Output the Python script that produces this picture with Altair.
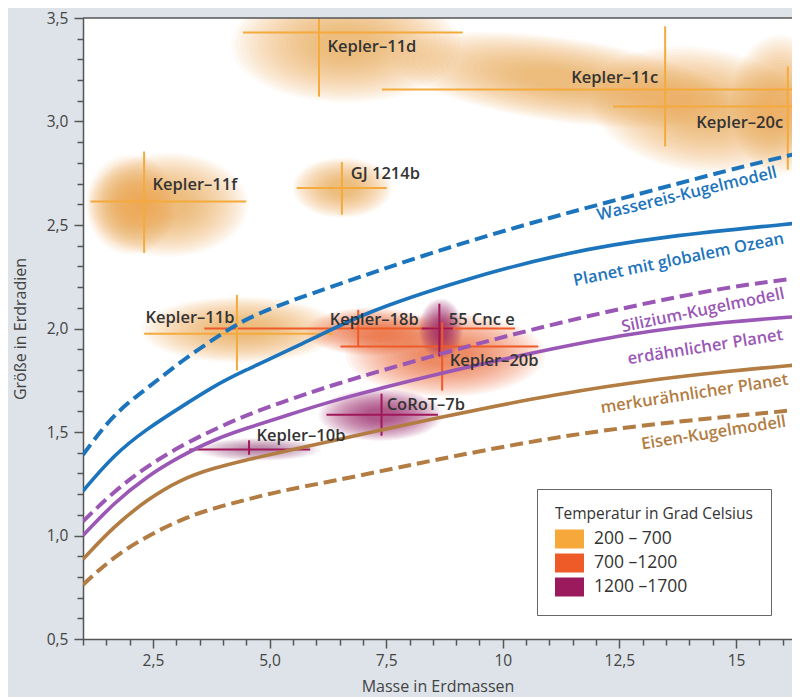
import altair as alt
import pandas as pd
import numpy as np

# ---------------- axes ----------------
X_MIN, X_MAX = 1.0, 16.2
Y_MIN, Y_MAX = 0.5, 3.5
W, H = 709, 621
PXX = W / (X_MAX - X_MIN)
PXY = H / (Y_MAX - Y_MIN)
FONT = "Open Sans"

# ---------------- model curves (mass in Earth masses -> radius in Earth radii) ----------------
wassereis_x = [1.0, 1.66, 2.37, 3.15, 3.94, 4.65, 6.30, 8.44, 10.58, 12.72, 14.86, 16.36]
wassereis_y = [1.39, 1.59, 1.71, 1.85, 1.97, 2.07, 2.20, 2.365, 2.51, 2.638, 2.767, 2.848]

ozean_x = [1.0, 1.66, 2.37, 3.08, 3.80, 4.30, 5.94, 7.01, 9.15, 11.29, 13.43, 16.36]
ozean_y = [1.215, 1.39, 1.515, 1.618, 1.72, 1.78, 1.95, 2.075, 2.236, 2.365, 2.445, 2.51]

silizium_x = [1.0, 1.66, 2.37, 3.08, 3.80, 4.51, 5.22, 6.30, 8.44, 10.58, 12.72, 14.86, 16.36]
silizium_y = [1.068, 1.213, 1.334, 1.431, 1.511, 1.583, 1.64, 1.725, 1.865, 1.994, 2.107, 2.203, 2.244]

erde_x = [1.0, 1.66, 2.37, 3.08, 3.80, 4.51, 5.22, 6.30, 8.65, 10.58, 12.72, 14.86, 16.36]
erde_y = [1.0, 1.157, 1.286, 1.382, 1.463, 1.519, 1.568, 1.65, 1.785, 1.88, 1.978, 2.034, 2.058]

merkur_x = [1.0, 1.66, 2.37, 3.08, 3.80, 4.51, 5.22, 6.30, 7.40, 8.44, 10.58, 12.72, 14.86, 16.36]
merkur_y = [0.885, 1.044, 1.173, 1.27, 1.326, 1.366, 1.401, 1.455, 1.51, 1.56, 1.66, 1.74, 1.795, 1.825]

eisen_x = [1.0, 1.66, 2.37, 3.08, 3.80, 4.51, 5.22, 6.30, 7.79, 8.44, 10.58, 12.72, 14.86, 16.36]
eisen_y = [0.762, 0.899, 0.996, 1.076, 1.133, 1.173, 1.215, 1.26, 1.33, 1.36, 1.455, 1.527, 1.575, 1.608]

curve_names = ["Wassereis-Kugelmodell", "Planet mit globalem Ozean", "Silizium-Kugelmodell",
               "erdähnlicher Planet", "merkurähnlicher Planet", "Eisen-Kugelmodell"]
curve_xs = [wassereis_x, ozean_x, silizium_x, erde_x, merkur_x, eisen_x]
curve_ys = [wassereis_y, ozean_y, silizium_y, erde_y, merkur_y, eisen_y]
curve_colors = ["#1c74bc", "#1c74bc", "#9a57b6", "#9a57b6", "#b27c42", "#b27c42"]
curve_dashed = [True, False, True, False, False, True]

# curve label anchors (data coords) and text angles
clabel_x = [13.95, 13.77, 14.29, 14.34, 14.11, 14.52]
clabel_y = [2.650, 2.332, 2.087, 1.910, 1.684, 1.495]
clabel_angle = [346.4, 348.5, 348.3, 351.0, 351.3, 351.0]

# ---------------- planets ----------------
planets = ["Kepler–11d", "Kepler–11c", "Kepler–20c", "Kepler–11f", "GJ 1214b", "Kepler–11b",
           "Kepler–18b", "55 Cnc e", "Kepler–20b", "CoRoT–7b", "Kepler–10b"]
mass = [6.06, 13.48, 16.11, 2.31, 6.55, 4.30, 6.90, 8.64, 8.70, 7.40, 4.56]
mass_lo = [4.43, 7.41, 12.36, 1.16, 5.58, 2.31, 3.60, 8.26, 6.52, 6.22, 3.28]
mass_hi = [9.14, 18.30, 19.40, 4.50, 7.51, 6.36, 10.26, 8.93, 10.76, 8.61, 5.87]
radius = [3.43, 3.154, 3.073, 2.614, 2.679, 1.975, 2.0, 2.0, 1.913, 1.583, 1.416]
radius_lo = [3.12, 2.88, 2.767, 2.365, 2.55, 1.797, 1.91, 1.865, 1.70, 1.482, 1.39]
radius_hi = [3.60, 3.46, 3.266, 2.855, 2.804, 2.163, 2.09, 2.12, 2.03, 1.685, 1.46]
temp = ["200 – 700", "200 – 700", "200 – 700", "200 – 700", "200 – 700", "200 – 700",
        "700 –1200", "1200 –1700", "700 –1200", "1200 –1700", "1200 –1700"]

# planet label anchors (data coords) and alignment
plabel_x = [6.24, 13.33, 16.01, 2.49, 6.74, 2.34, 6.29, 8.84, 8.86, 7.51, 4.72]
plabel_y = [3.361, 3.211, 2.994, 2.695, 2.748, 2.052, 2.042, 2.042, 1.841, 1.632, 1.479]
plabel_align = ["left", "right", "right", "left", "left", "left", "left", "left", "left", "left", "left"]

TEMP_CLASSES = ["200 – 700", "700 –1200", "1200 –1700"]
TEMP_SWATCH = ["#f6a93a", "#ee5a28", "#9b1a5e"]
TEMP_LINE = ["#f4aa3c", "#ee5a28", "#a0185a"]
TEMP_BLOB = ["#f4a846", "#e85a20", "#8e1a5a"]

# ---------------- uncertainty clouds (data coords: centre, half extents) ----------------
blob_temp = ["200 – 700"] * 8 + ["700 –1200"] * 2 + ["1200 –1700"] * 3
blob_x = [6.63, 11.23, 14.23, 15.95, 2.84, 2.02, 6.56, 4.38, 8.77, 7.17, 8.67, 7.38, 4.77]
blob_y = [3.371, 3.202, 3.057, 3.081, 2.598, 2.598, 2.68, 1.994, 1.873, 1.985, 2.0, 1.583, 1.416]
blob_hx = [2.46, 3.64, 2.36, 1.07, 1.71, 0.96, 1.07, 2.14, 2.14, 1.39, 0.47, 1.33, 1.33]
blob_hy = [0.28, 0.203, 0.30, 0.338, 0.251, 0.242, 0.145, 0.159, 0.203, 0.116, 0.145, 0.126, 0.055]
blob_rot = [0, 8, 8, 0, 0, 0, 0, 0, 0, 0, 0, 0, 0]
blob_strength = [0.056, 0.056, 0.056, 0.056, 0.056, 0.056, 0.056, 0.056, 0.056, 0.056, 0.056, 0.056, 0.032]

# ---------------- build tables ----------------
rows = []
for n, xs_, ys_, c, d in zip(curve_names, curve_xs, curve_ys, curve_colors, curve_dashed):
    for i, (a, b) in enumerate(zip(xs_, ys_)):
        rows.append({"curve": n, "x": a, "y": b, "col": c, "dashed": d, "order": i})
curves = pd.DataFrame(rows)

clabels = pd.DataFrame({"text": curve_names, "x": clabel_x, "y": clabel_y,
                        "angle": clabel_angle, "col": curve_colors})

pl = pd.DataFrame({"name": planets, "m": mass, "m_lo": mass_lo, "m_hi": mass_hi,
                   "r": radius, "r_lo": radius_lo, "r_hi": radius_hi, "temp": temp,
                   "lx": plabel_x, "ly": plabel_y, "align": plabel_align})
pl["linecol"] = pl["temp"].map(dict(zip(TEMP_CLASSES, TEMP_LINE)))


def ellipse_path(ratio):
    k = 0.5523
    r = ratio
    return (f"M1,0C1,{k*r:.4f} {k},{r:.4f} 0,{r:.4f}C{-k},{r:.4f} -1,{k*r:.4f} -1,0"
            f"C-1,{-k*r:.4f} {-k},{-r:.4f} 0,{-r:.4f}C{k},{-r:.4f} 1,{-k*r:.4f} 1,0Z")


LAYERS = 20
blob_col = dict(zip(TEMP_CLASSES, TEMP_BLOB))
brow = []
for t, bx, by, hx, hy, rot, a in zip(blob_temp, blob_x, blob_y, blob_hx, blob_hy, blob_rot, blob_strength):
    rx = hx * PXX
    ry = hy * PXY
    for k in range(LAYERS):
        s = 1.0 - 0.8 * k / LAYERS
        big = max(rx, ry) * s
        if rx >= ry:
            path, ang = ellipse_path(ry / rx), rot
        else:
            path, ang = ellipse_path(rx / ry), rot + 90
        brow.append({"x": bx, "y": by, "size": (2 * big) ** 2, "op": a,
                     "shape": path, "angle": ang % 360, "col": blob_col[t]})
blobs = pd.DataFrame(brow)

xs = alt.Scale(domain=[X_MIN, X_MAX], nice=False, zero=False)
ys = alt.Scale(domain=[Y_MIN, Y_MAX], nice=False, zero=False)

x_major = [2.5, 5.0, 7.5, 10.0, 12.5, 15.0]
x_minor = [float(v) for v in np.arange(1.0, 16.01, 0.5) if float(v) not in x_major]
y_major = [0.5, 1.0, 1.5, 2.0, 2.5, 3.0, 3.5]
y_minor = [round(float(v), 1) for v in np.arange(0.6, 3.45, 0.1)]
y_minor = [v for v in y_minor if v not in y_major]

x_axis_major = alt.Axis(
    values=x_major, title="Masse in Erdmassen", grid=False, orient="bottom", tickSize=9,
    labelExpr="datum.value == 10 ? '10' : datum.value == 15 ? '15' : replace(format(datum.value, '.1f'), '.', ',')",
    labelOverlap=False, labelFlush=False, labelPadding=5, titlePadding=10,
)
y_axis_major = alt.Axis(
    values=y_major, title="Größe in Erdradien", grid=False, orient="left", tickSize=9,
    labelExpr="replace(format(datum.value, '.1f'), '.', ',')",
    labelOverlap=False, labelFlush=False, labelPadding=6, titlePadding=18,
)
x_axis_minor = alt.Axis(values=x_minor, title=None, grid=False, orient="bottom", tickSize=6,
                        labels=False, domain=False)
y_axis_minor = alt.Axis(values=y_minor, title=None, grid=False, orient="left", tickSize=6,
                        labels=False, domain=False)

blob_layer = alt.Chart(blobs).mark_point(filled=True, strokeWidth=0, clip=True).encode(
    x=alt.X("x:Q", scale=xs, axis=x_axis_major),
    y=alt.Y("y:Q", scale=ys, axis=y_axis_major),
    size=alt.Size("size:Q", scale=None),
    shape=alt.Shape("shape:N", scale=None),
    angle=alt.Angle("angle:Q", scale=None),
    fill=alt.Fill("col:N", scale=None),
    opacity=alt.Opacity("op:Q", scale=None),
)

solid_layer = alt.Chart(curves[~curves["dashed"]]).mark_line(
    strokeWidth=3.6, interpolate="basis", clip=True).encode(
    x=alt.X("x:Q", scale=xs, axis=None), y=alt.Y("y:Q", scale=ys, axis=None),
    color=alt.Color("col:N", scale=None), detail="curve:N", order="order:Q")

dashed_layer = alt.Chart(curves[curves["dashed"]]).mark_line(
    strokeWidth=4, interpolate="basis", clip=True, strokeDash=[13, 6], strokeCap="butt").encode(
    x=alt.X("x:Q", scale=xs, axis=None), y=alt.Y("y:Q", scale=ys, axis=None),
    color=alt.Color("col:N", scale=None), detail="curve:N", order="order:Q")

hbar = alt.Chart(pl).mark_rule(strokeWidth=2, clip=True).encode(
    x=alt.X("m_lo:Q", scale=xs, axis=None), x2="m_hi:Q", y=alt.Y("r:Q", scale=ys, axis=None),
    stroke=alt.Stroke("linecol:N", scale=None))
vbar = alt.Chart(pl).mark_rule(strokeWidth=2, clip=True).encode(
    x=alt.X("m:Q", scale=xs, axis=None), y=alt.Y("r_lo:Q", scale=ys, axis=None), y2="r_hi:Q",
    stroke=alt.Stroke("linecol:N", scale=None))

legend_layer = alt.Chart(pl).mark_point(filled=True, opacity=0, shape="square").encode(
    x=alt.X("m:Q", scale=xs, axis=x_axis_minor), y=alt.Y("r:Q", scale=ys, axis=y_axis_minor),
    color=alt.Color("temp:N", scale=alt.Scale(domain=TEMP_CLASSES, range=TEMP_SWATCH),
                    legend=alt.Legend(
                        orient="none", legendX=454, legendY=471, direction="vertical",
                        title="Temperatur in Grad Celsius", titleFont=FONT, titleFontSize=15.5,
                        titleFontWeight="normal", titleColor="#333", titlePadding=2, titleLimit=400,
                        labelFont=FONT, labelFontSize=17.5, labelColor="#333", labelOffset=10,
                        symbolType="M-1,-0.655H1V0.655H-1Z", symbolSize=841,
                        symbolStrokeWidth=0, symbolOpacity=1, padding=18,
                        strokeColor="#666", fillColor="white", rowPadding=-1,
                        cornerRadius=0, values=TEMP_CLASSES)),
)

plab_left = alt.Chart(pl[pl["align"] == "left"]).mark_text(
    align="left", baseline="middle", font=FONT, fontSize=16.5, fontWeight=600, color="#333").encode(
    x=alt.X("lx:Q", scale=xs, axis=None), y=alt.Y("ly:Q", scale=ys, axis=None), text="name:N")
plab_right = alt.Chart(pl[pl["align"] == "right"]).mark_text(
    align="right", baseline="middle", font=FONT, fontSize=16.5, fontWeight=600, color="#333").encode(
    x=alt.X("lx:Q", scale=xs, axis=None), y=alt.Y("ly:Q", scale=ys, axis=None), text="name:N")

clab = alt.Chart(clabels).mark_text(
    align="center", baseline="middle", font=FONT, fontSize=16.5, fontWeight=600).encode(
    x=alt.X("x:Q", scale=xs, axis=None), y=alt.Y("y:Q", scale=ys, axis=None), text="text:N",
    angle=alt.Angle("angle:Q", scale=None), color=alt.Color("col:N", scale=None))

top_rule = alt.Chart(pd.DataFrame({"y": [Y_MAX]})).mark_rule(color="#555", strokeWidth=1.5).encode(
    y=alt.Y("y:Q", scale=ys, axis=None))

chart = alt.layer(
    blob_layer, hbar, vbar, dashed_layer, solid_layer, legend_layer,
    plab_left, plab_right, clab, top_rule
).resolve_axis(
    x="independent", y="independent"
).properties(
    width=W, height=H,
    autosize=alt.AutoSizeParams(type="none"),
    padding={"left": 75, "top": 10, "right": 0, "bottom": 58},
    background="#dde3e8",
).configure_view(
    fill="white", stroke=None
).configure_axis(
    domainColor="#555", domainWidth=1.5, tickColor="#555", tickWidth=1.5,
    labelColor="#444", labelFont=FONT, labelFontSize=15.5,
    titleColor="#444", titleFont=FONT, titleFontSize=16, titleFontWeight="normal",
)

chart.save("out.html", embed_options={"renderer": "svg", "actions": False})
